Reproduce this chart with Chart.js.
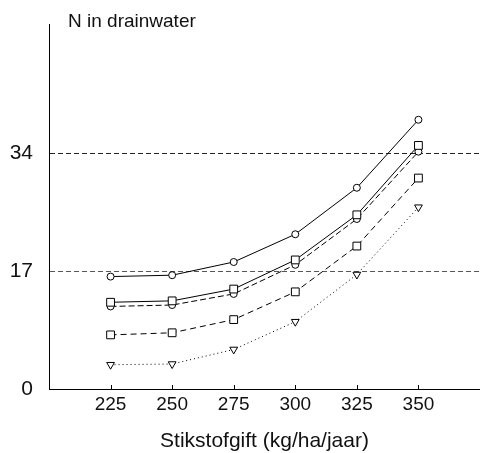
<!DOCTYPE html>
<html><head><meta charset="utf-8">
<script src="https://cdn.jsdelivr.net/npm/chart.js@4.4.0/dist/chart.umd.min.js"></script>
<style>html,body{margin:0;padding:0;background:#fff}#wrap{width:480px;height:453px}</style>
</head><body><div id="wrap"><canvas id="c" width="480" height="453"></canvas></div>
<script>
const categories = [225, 250, 275, 300, 325, 350];
const yTickValues = [0, 17, 34];
const seriesCircleSolid    = [16.2, 16.4, 18.3, 22.3, 29.0, 38.8];
const seriesSquareSolid    = [12.5, 12.7, 14.4, 18.6, 25.1, 35.1];
const seriesCircleDashed   = [11.9, 12.1, 13.7, 17.9, 24.5, 34.2];
const seriesSquareDashed   = [7.8, 8.1, 10.0, 14.0, 20.6, 30.4];
const seriesTriangleDotted = [3.5, 3.6, 5.7, 9.7, 16.5, 26.2];
const yTitle = 'N in drainwater';
const xTitle = 'Stikstofgift (kg/ha/jaar)';
const xMin = 200, xMax = 375, yMin = 0, yMax = 52.6;

const FONT = '"Liberation Sans", Arial, Helvetica, sans-serif';
const toPts = arr => arr.map((v, i) => ({x: categories[i], y: v}));

function ds(data, style, dash, radius, rotation) {
  return {
    data: toPts(data), borderColor: '#000', borderWidth: 1, borderDash: dash,
    pointStyle: style, pointRadius: radius, pointRotation: rotation || 0,
    pointBackgroundColor: '#fff', pointBorderColor: '#000', pointBorderWidth: 1,
    tension: 0, fill: false
  };
}

const extras = {
  id: 'extras',
  afterDraw(chart) {
    const ctx = chart.ctx, xs = chart.scales.x, a = chart.chartArea;
    ctx.save();
    ctx.strokeStyle = '#000'; ctx.lineWidth = 1;
    categories.forEach(v => {
      const px = Math.round(xs.getPixelForValue(v)) + 0.5;
      ctx.beginPath(); ctx.moveTo(px, a.bottom); ctx.lineTo(px, a.bottom - 4); ctx.stroke();
    });
    ctx.fillStyle = '#111';
    ctx.font = '19px ' + FONT;
    ctx.textBaseline = 'alphabetic';
    ctx.textAlign = 'left';
    ctx.fillText(yTitle, 68, 27);
    ctx.restore();
  }
};

new Chart(document.getElementById('c'), {
  type: 'line',
  data: {
    datasets: [
      ds(seriesCircleSolid, 'circle', [], 3.5),
      ds(seriesSquareSolid, 'rect', [], 5.5),
      ds(seriesCircleDashed, 'circle', [6, 3], 3.5),
      ds(seriesSquareDashed, 'rect', [6, 4], 5.5),
      ds(seriesTriangleDotted, 'triangle', [1, 3], 4.5, 180)
    ]
  },
  options: {
    responsive: false, animation: false,
    layout: {autoPadding: false, padding: {top: 24, right: 0, left: 0, bottom: 0}},
    plugins: {legend: {display: false}, tooltip: {enabled: false}},
    scales: {
      x: {
        type: 'linear', min: xMin, max: xMax,
        afterBuildTicks: s => { s.ticks = categories.map(v => ({value: v})); },
        afterFit: s => { s.height = 64; s.paddingLeft = 0; s.paddingRight = 0; },
        ticks: {font: {size: 19, family: FONT}, color: '#111', padding: 4, maxRotation: 0, autoSkip: false},
        grid: {display: false, drawTicks: false},
        border: {color: '#000', width: 1},
        title: {display: true, text: xTitle, font: {size: 21, family: FONT}, color: '#111', padding: {top: 0, bottom: -1}}
      },
      y: {
        min: yMin, max: yMax,
        afterBuildTicks: s => { s.ticks = yTickValues.map(v => ({value: v})); },
        afterFit: s => { s.width = 49; s.paddingTop = 0; s.paddingBottom = 0; },
        ticks: {font: {size: 21, family: FONT}, color: '#111', padding: 16},
        grid: {
          drawTicks: false, lineWidth: 1,
          color: c => c.tick && c.tick.value === 0 ? 'rgba(0,0,0,0)' : (c.tick && c.tick.value === 34 ? '#222' : '#555')
        },
        border: {color: '#000', width: 1, dash: [5, 3]}
      }
    }
  },
  plugins: [extras]
});
</script></body></html>
